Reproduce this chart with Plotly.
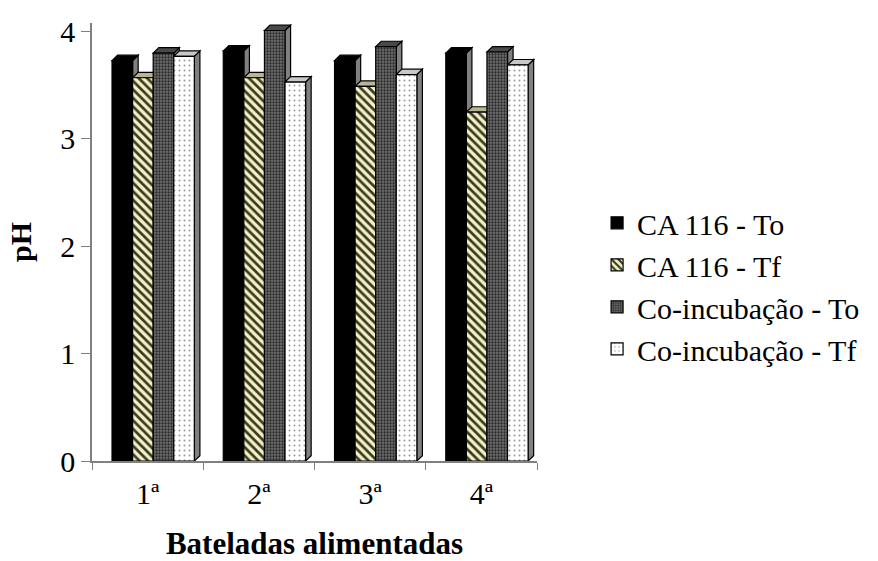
import plotly.graph_objects as go

categories = ["1ª", "2ª", "3ª", "4ª"]
series_names = ["CA 116 - To", "CA 116 - Tf", "Co-incubação - To", "Co-incubação - Tf"]
ca_to = [3.73, 3.82, 3.73, 3.80]
ca_tf = [3.57, 3.57, 3.49, 3.25]
co_to = [3.80, 4.01, 3.86, 3.81]
co_tf = [3.77, 3.53, 3.60, 3.69]
y_ticks = [0, 1, 2, 3, 4]

series_values = [ca_to, ca_tf, co_to, co_tf]
face_colors = ["#000000", "#f4f1c8", "#6e6e6e", "#ffffff"]
pattern_shapes = ["", "\\", ".", "."]
pattern_fg = ["#000000", "#3a3a20", "#2a2a2a", "#9a9a9a"]
pattern_size = [8, 6, 3, 5]
pattern_solidity = [0.3, 0.45, 0.45, 0.12]
top_colors = ["#000000", "#b8b690", "#4a4a4a", "#c8c8c8"]
side_color = "#808080"

bw = 0.185
first_offset = -0.32
dx, dy = 0.05, 0.05

fig = go.Figure()
for i, (name, vals) in enumerate(zip(series_names, series_values)):
    fig.add_trace(go.Bar(
        x=categories, y=vals, name=name,
        width=bw, offset=first_offset + i * bw,
        marker=dict(color=face_colors[i],
                    line=dict(color="#000000", width=1.2),
                    pattern=dict(shape=pattern_shapes[i], fgcolor=pattern_fg[i],
                                 bgcolor=face_colors[i], size=pattern_size[i],
                                 solidity=pattern_solidity[i], fillmode="replace")),
    ))

shapes = []
for i, vals in enumerate(series_values):
    for c, v in enumerate(vals):
        x0 = c + first_offset + i * bw
        x1 = x0 + bw
        side = f"M {x1},0 L {x1+dx},{dy} L {x1+dx},{v+dy} L {x1},{v} Z"
        top = f"M {x0},{v} L {x0+dx},{v+dy} L {x1+dx},{v+dy} L {x1},{v} Z"
        shapes.append(dict(type="path", path=side, xref="x", yref="y", layer="below",
                           fillcolor=side_color, line=dict(color="#000000", width=1.2)))
        shapes.append(dict(type="path", path=top, xref="x", yref="y", layer="below",
                           fillcolor=top_colors[i], line=dict(color="#000000", width=1.2)))

font_family = "Times New Roman, Liberation Serif, serif"
fig.update_layout(
    width=878, height=561,
    margin=dict(l=92, r=341, t=23, b=100, autoexpand=False),
    paper_bgcolor="white", plot_bgcolor="white",
    barmode="overlay",
    shapes=shapes,
    font=dict(family=font_family, size=30, color="black"),
    showlegend=True,
    legend=dict(x=1.135, xanchor="left", y=0.40, yanchor="middle",
                font=dict(family=font_family, size=30, color="black"),
                bgcolor="rgba(0,0,0,0)", itemwidth=30, tracegroupgap=0),
    xaxis=dict(type="category", showline=True, linecolor="#808080", linewidth=1.5,
               ticks="outside", tickson="boundaries", ticklen=7, tickcolor="#808080",
               showgrid=False, range=[-0.5, 3.5], ticklabelstandoff=5, automargin=False,
               tickfont=dict(family=font_family, size=30, color="black"),
               title=dict(text="<b>Bateladas alimentadas</b>", standoff=24,
                          font=dict(family=font_family, size=31, color="black"))),
    yaxis=dict(range=[0, 4.08], tickvals=y_ticks, showline=True, linecolor="#808080",
               linewidth=1.5, ticks="outside", ticklen=9, tickcolor="#808080",
               showgrid=False, zeroline=False, automargin=False,
               tickfont=dict(family=font_family, size=30, color="black"),
               title=dict(text="<b>pH</b>", standoff=20,
                          font=dict(family=font_family, size=30, color="black"))),
)

fig.write_html("out.html")
